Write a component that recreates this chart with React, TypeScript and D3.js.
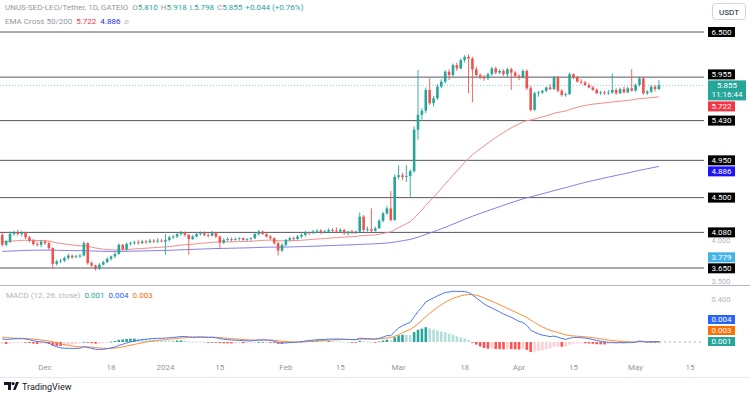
import React from 'react';
import * as d3 from 'd3';

// ---------- DATA ----------
const startDate = new Date(2023, 10, 20); // first daily candle
const opens = [
  4.05,3.93,3.97,4.06,4.08,4.06,4.08,4.02,3.98,3.94,
  3.93,3.97,3.95,3.89,3.70,3.73,3.74,3.77,3.80,3.78,
  3.79,3.80,3.95,3.71,3.68,3.64,3.69,3.72,3.76,3.79,
  3.82,3.93,3.88,3.94,3.95,3.96,3.95,3.97,3.96,3.98,
  3.97,3.98,3.97,3.99,4.02,4.03,4.06,4.08,4.05,4.00,
  4.03,4.06,4.07,4.05,4.04,4.08,4.03,3.96,3.99,4.00,
  3.99,4.00,4.01,3.99,4.00,4.01,4.06,4.09,4.06,4.03,
  4.01,3.95,3.86,3.93,3.99,4.01,4.00,4.03,4.05,4.08,
  4.07,4.09,4.10,4.08,4.09,4.11,4.10,4.09,4.11,4.07,
  4.09,4.08,4.09,4.27,4.11,4.12,4.10,4.13,4.22,4.31,
  4.37,4.23,4.75,4.77,4.75,4.76,4.82,5.32,5.50,5.55,
  5.80,5.64,5.70,5.84,5.90,6.02,5.98,6.10,6.06,6.16,
  6.20,6.18,6.05,5.98,5.96,5.94,5.99,6.06,6.01,6.03,
  5.99,6.05,6.01,5.97,5.95,6.03,5.82,5.56,5.76,5.77,
  5.79,5.83,5.81,5.95,5.79,5.74,5.75,5.99,5.95,5.90,
  5.89,5.86,5.83,5.80,5.76,5.77,5.76,5.77,5.80,5.76,
  5.81,5.77,5.82,5.79,5.86,5.94,5.76,5.78,5.84,5.810,
];
const highs = [
  4.08,3.99,4.09,4.10,4.11,4.10,4.09,4.04,4.00,3.97,
  3.99,3.99,3.97,3.90,3.75,3.76,3.79,3.82,3.81,3.81,
  3.82,3.97,3.96,3.73,3.69,3.71,3.74,3.78,3.80,3.84,
  3.95,3.94,3.96,3.97,3.98,3.99,3.99,3.99,4.00,4.00,
  4.01,4.00,4.06,4.04,4.05,4.07,4.10,4.09,4.06,4.05,
  4.08,4.09,4.09,4.07,4.10,4.09,4.04,4.01,4.02,4.02,
  4.02,4.02,4.02,4.01,4.02,4.08,4.11,4.10,4.07,4.05,
  4.02,3.97,3.95,4.00,4.03,4.03,4.05,4.07,4.10,4.09,
  4.11,4.12,4.12,4.11,4.13,4.13,4.14,4.13,4.12,4.10,
  4.11,4.10,4.32,4.29,4.15,4.37,4.15,4.24,4.33,4.40,
  4.58,4.78,4.89,4.80,4.89,4.84,5.36,6.04,5.58,5.83,
  5.94,5.73,5.87,5.93,6.04,6.05,6.12,6.13,6.18,6.22,
  6.23,6.20,6.08,6.00,5.98,6.01,6.08,6.08,6.05,6.05,
  6.07,6.07,6.03,5.99,6.05,6.05,5.85,5.78,5.79,5.80,
  5.84,5.87,5.97,5.97,5.81,5.77,6.01,6.00,5.97,5.93,
  5.91,5.88,5.85,5.82,5.79,5.79,5.80,6.00,5.82,5.83,
  5.84,5.84,6.05,5.88,5.96,5.96,5.80,5.86,5.86,5.918,
];
const lows = [
  3.91,3.91,3.95,4.04,4.04,4.03,4.00,3.96,3.92,3.91,
  3.90,3.93,3.87,3.64,3.68,3.71,3.72,3.75,3.76,3.77,
  3.77,3.79,3.69,3.66,3.62,3.63,3.68,3.71,3.74,3.77,
  3.81,3.86,3.85,3.92,3.93,3.93,3.94,3.94,3.95,3.95,
  3.95,3.96,3.81,3.97,4.00,4.01,4.04,4.03,3.81,3.99,
  4.02,4.04,4.03,4.02,4.03,4.01,3.88,3.94,3.97,3.97,
  3.98,3.98,3.98,3.97,3.98,4.00,4.04,4.05,4.02,3.99,
  3.93,3.80,3.84,3.91,3.97,3.98,3.99,4.01,4.03,4.05,
  4.06,4.07,4.06,4.07,4.08,4.08,4.07,4.08,4.05,4.04,
  4.06,4.06,4.08,4.09,4.09,4.08,4.09,4.12,4.20,4.29,
  4.21,4.22,4.72,4.71,4.69,4.51,4.80,5.20,5.44,5.52,
  5.62,5.60,5.68,5.82,5.88,5.92,5.96,6.03,6.05,6.13,
  5.76,5.65,5.96,5.93,5.91,5.92,5.97,5.99,5.99,5.97,
  5.95,5.80,5.95,5.92,5.94,5.80,5.54,5.55,5.72,5.75,
  5.77,5.80,5.80,5.77,5.72,5.72,5.74,5.93,5.89,5.87,
  5.85,5.82,5.79,5.75,5.74,5.74,5.74,5.75,5.74,5.75,
  5.76,5.76,5.78,5.78,5.84,5.74,5.74,5.76,5.78,5.798,
];
const closes = [
  3.93,3.97,4.06,4.08,4.06,4.08,4.02,3.98,3.94,3.93,
  3.97,3.95,3.89,3.70,3.73,3.74,3.77,3.80,3.78,3.79,
  3.80,3.95,3.71,3.68,3.64,3.69,3.72,3.76,3.79,3.82,
  3.93,3.88,3.94,3.95,3.96,3.95,3.97,3.96,3.98,3.97,
  3.98,3.97,3.99,4.02,4.03,4.06,4.08,4.05,4.00,4.03,
  4.06,4.07,4.05,4.04,4.08,4.03,3.96,3.99,4.00,3.99,
  4.00,4.01,3.99,4.00,4.01,4.06,4.09,4.06,4.03,4.01,
  3.95,3.86,3.93,3.99,4.01,4.00,4.03,4.05,4.08,4.07,
  4.09,4.10,4.08,4.09,4.11,4.10,4.09,4.11,4.07,4.09,
  4.08,4.09,4.27,4.11,4.12,4.10,4.13,4.22,4.31,4.37,
  4.23,4.75,4.77,4.75,4.76,4.82,5.32,5.50,5.55,5.80,
  5.64,5.70,5.84,5.90,6.02,5.98,6.10,6.06,6.16,6.20,
  6.18,6.05,5.98,5.96,5.94,5.99,6.06,6.01,6.03,5.99,
  6.05,6.01,5.97,5.95,6.03,5.82,5.56,5.76,5.77,5.79,
  5.83,5.81,5.95,5.79,5.74,5.75,5.99,5.95,5.90,5.89,
  5.86,5.83,5.80,5.76,5.77,5.76,5.77,5.80,5.76,5.81,
  5.77,5.82,5.79,5.86,5.94,5.76,5.78,5.84,5.811,5.855,
];

// EMA starting levels read at the left edge of the chart
const emaSeeds = [3.97, 3.85]; // EMA50, EMA200
const macdSeeds = [4.03, 3.99, 0.05]; // EMA12, EMA26, signal

const levelLines = [6.5, 5.955, 5.43, 4.95, 4.5, 4.08, 3.65];
const priceTicks = [3.5, 4.0, 4.5, 5.0, 5.5, 6.0, 6.5];
const timeTickDates = [
  '2023-12-01','2023-12-18','2024-01-01','2024-01-15','2024-02-01','2024-02-15',
  '2024-03-01','2024-03-18','2024-04-01','2024-04-15','2024-05-01','2024-05-15',
];
const timeTickLabels = ['Dec','18','2024','15','Feb','15','Mar','18','Apr','15','May','15'];
const legendOHLC = ['5.810', '5.918', '5.798', '5.855'];
const legendChange = '+0.044 (+0.76%)';
const emaLegend = ['5.722', '4.886'];
const macdLegend = ['0.001', '0.004', '0.003'];
const extraAxisLabels = [{ v: 3.779, label: '3.779' }];
const macdTicks = [0.4];
const countdown = '11:16:44';

// ---------- HELPERS ----------
const UP = '#26a69a';
const DOWN = '#ef5350';
const FONT = 'Roboto, "Liberation Sans", sans-serif';

function ema(values: number[], period: number, seed: number) {
  const k = 2 / (period + 1);
  let prev = seed;
  return values.map((v) => (prev = prev + k * (v - prev)));
}

function parseDay(s: string) {
  const [y, m, d] = s.split('-').map(Number);
  return new Date(y, m - 1, d);
}

function stackBoxes(items: { y: number; h: number; anchor?: boolean }[], gap = 1) {
  const arr = items.map((it) => ({ ...it, top: it.y - (it.anchor ? 5 : it.h / 2) }));
  arr.sort((a, b) => a.y - b.y);
  const ai = Math.max(0, arr.findIndex((a) => a.anchor));
  for (let i = ai + 1; i < arr.length; i++) {
    const prevBottom = arr[i - 1].top + arr[i - 1].h + gap;
    if (arr[i].top < prevBottom) arr[i].top = prevBottom;
  }
  for (let i = ai - 1; i >= 0; i--) {
    const nextTop = arr[i + 1].top - gap;
    if (arr[i].top + arr[i].h > nextTop) arr[i].top = nextTop - arr[i].h;
  }
  return arr;
}

export default function App() {
  const W = 750;
  const H = 394;
  const plotRight = 704;

  const dates = closes.map((_, i) => d3.timeDay.offset(startDate, i));
  const x = d3
    .scaleTime()
    .domain([new Date(2023, 11, 1), new Date(2024, 4, 15)])
    .range([45, 690]);
  const y = d3.scaleLinear().domain([3.65, 6.5]).range([268, 32]);
  const ym = d3.scaleLinear().domain([0, 0.4]).range([342, 299]);

  const ema50 = ema(closes, 50, emaSeeds[0]);
  const ema200 = ema(closes, 200, emaSeeds[1]);
  const ema12 = ema(closes, 12, macdSeeds[0]);
  const ema26 = ema(closes, 26, macdSeeds[1]);
  const macd = ema12.map((v, i) => v - ema26[i]);
  const signal = ema(macd, 9, macdSeeds[2]);
  const hist = macd.map((v, i) => v - signal[i]);

  const line = d3
    .line<number>()
    .x((_, i) => x(dates[i]))
    .y((v) => y(v));
  const mline = d3
    .line<number>()
    .x((_, i) => x(dates[i]))
    .y((v) => ym(v));

  const bw = 2.6;
  const lastX = x(dates[dates.length - 1]);
  const lastClose = closes[closes.length - 1];

  const boxDefs: any[] = levelLines.map((v) => ({ y: y(v), h: 10, label: v.toFixed(3), bg: '#000', fg: '#fff' }));
  boxDefs.push({ y: y(lastClose), h: 20, label: lastClose.toFixed(3), sub: countdown, bg: UP, fg: '#fff', anchor: true, w: 38 });
  boxDefs.push({ y: y(+emaLegend[0]), h: 10, label: emaLegend[0], bg: '#f23645', fg: '#fff' });
  boxDefs.push({ y: y(+emaLegend[1]), h: 10, label: emaLegend[1], bg: '#1e13f5', fg: '#fff' });
  extraAxisLabels.forEach((e) => boxDefs.push({ y: y(e.v), h: 10, label: e.label, bg: '#42b4e6', fg: '#fff' }));
  const placed = stackBoxes(boxDefs as any) as any[];

  // grey scale ticks only where no label box covers them
  const visibleTicks = priceTicks.filter((t) => {
    const ty = y(t);
    return !placed.some((b) => ty >= b.top - 1 && ty <= b.top + b.h + 1);
  });

  const macdBoxDefs: any[] = [
    { y: ym(0), h: 9, label: macdLegend[0], bg: UP, anchor: true },
    { y: ym(0.0001) - 0.1, h: 9, label: macdLegend[2], bg: '#ff6d00' },
    { y: ym(0.0002) - 0.2, h: 9, label: macdLegend[1], bg: '#2962ff' },
  ];
  const macdPlaced = stackBoxes(macdBoxDefs as any, 2) as any[];

  const gray = '#9598a1';
  const axisGray = '#b2b5be';

  return (
    <svg
      width={W}
      height={H}
      style={{ position: 'absolute', left: 0, top: 0, background: '#fff' }}
      fontFamily={FONT}
    >
      <defs>
        <clipPath id="plot">
          <rect x={0} y={0} width={plotRight} height={286} />
        </clipPath>
        <clipPath id="mplot">
          <rect x={0} y={287} width={plotRight} height={68} />
        </clipPath>
      </defs>
      <rect x={0} y={0} width={W} height={H} fill="#fff" />

      {/* Header */}
      <text x={5} y={10} fontSize={8} fill={gray}>
        <tspan>UNUS-SED-LEO/Tether, 1D, GATEIO</tspan>
        <tspan dx={4}>O</tspan><tspan fill={UP}>{legendOHLC[0]}</tspan>
        <tspan dx={3}>H</tspan><tspan fill={UP}>{legendOHLC[1]}</tspan>
        <tspan dx={3}>L</tspan><tspan fill={UP}>{legendOHLC[2]}</tspan>
        <tspan dx={3}>C</tspan><tspan fill={UP}>{legendOHLC[3]}</tspan>
        <tspan dx={3} fill={UP}>{legendChange}</tspan>
      </text>
      <text x={5} y={24} fontSize={8} fill={gray}>
        <tspan>EMA Cross 50/200</tspan>
        <tspan dx={4} fill="#f23645">{emaLegend[0]}</tspan>
        <tspan dx={4} fill="#2a2ae0">{emaLegend[1]}</tspan>
        <tspan dx={4} fill="#c0c3cc">⌀</tspan>
      </text>

      {/* USDT box */}
      <rect x={712.5} y={3.5} width={33} height={16} rx={3} fill="#fff" stroke="#d1d4dc" />
      <text x={729} y={14.5} fontSize={8} fill="#131722" textAnchor="middle">USDT</text>

      {visibleTicks.map((t) => (
        <text key={t} x={721} y={y(t) + 4} fontSize={7.5} fill={axisGray} textAnchor="middle">
          {t.toFixed(3)}
        </text>
      ))}

      <g clipPath="url(#plot)">
        {levelLines.map((v) => (
          <line key={v} x1={0} x2={plotRight} y1={y(v)} y2={y(v)} stroke="#545862" strokeWidth={1} />
        ))}
        <line x1={0} x2={plotRight} y1={y(lastClose)} y2={y(lastClose)} stroke={UP} strokeOpacity={0.55} strokeDasharray="1,2" />

        <path d={line(ema200) || ''} fill="none" stroke="#7f7fe6" strokeWidth={1} />
        <path d={line(ema50) || ''} fill="none" stroke="#f08c8c" strokeWidth={1} />

        {closes.map((c, i) => {
          const o = opens[i];
          const up = c >= o;
          const col = up ? UP : DOWN;
          const cx = x(dates[i]);
          const top = y(Math.max(o, c));
          const bot = y(Math.min(o, c));
          return (
            <g key={i}>
              <line x1={cx} x2={cx} y1={y(highs[i])} y2={y(lows[i])} stroke={col} strokeWidth={0.9} />
              <rect x={cx - bw / 2} y={top} width={bw} height={Math.max(0.8, bot - top)} fill={col} />
            </g>
          );
        })}
      </g>

      {placed.map((b, i) => (
        <g key={i}>
          <rect x={708} y={b.top} width={b.w || 27} height={b.h} fill={b.bg} />
          <text x={708 + (b.w || 27) / 2} y={b.top + 7.8} fontSize={8} fill={b.fg} textAnchor="middle">
            {b.label}
          </text>
          {b.sub && (
            <text x={708 + (b.w || 27) / 2} y={b.top + 17} fontSize={8} fill={b.fg} textAnchor="middle">
              {b.sub}
            </text>
          )}
        </g>
      ))}

      <line x1={0} x2={W} y1={285.5} y2={285.5} stroke="#b2b5be" strokeWidth={1} />

      {/* MACD pane */}
      <text x={6} y={298} fontSize={8} fill={axisGray}>
        <tspan>MACD (12, 26, close)</tspan>
        <tspan dx={4} fill={UP}>{macdLegend[0]}</tspan>
        <tspan dx={4} fill="#2962ff">{macdLegend[1]}</tspan>
        <tspan dx={4} fill="#ff6d00">{macdLegend[2]}</tspan>
      </text>
      {macdTicks.map((t) => (
        <text key={t} x={721} y={ym(t) + 3} fontSize={7.5} fill={axisGray} textAnchor="middle">
          {t.toFixed(3)}
        </text>
      ))}
      <g clipPath="url(#mplot)">
        {hist.map((h, i) => {
          const prev = i > 0 ? hist[i - 1] : h;
          const col = h >= 0 ? (h >= prev ? '#26a69a' : '#b2dfdb') : h < prev ? '#ff5252' : '#ffcdd2';
          const cx = x(dates[i]);
          const y0 = ym(0);
          const y1 = ym(h);
          return (
            <rect key={i} x={cx - bw / 2} y={Math.min(y0, y1)} width={bw} height={Math.max(0.8, Math.abs(y1 - y0))} fill={col} />
          );
        })}
        <line x1={lastX} x2={plotRight} y1={ym(0)} y2={ym(0)} stroke="#9598a1" strokeDasharray="2,3" strokeWidth={0.8} />
        <path d={mline(signal) || ''} fill="none" stroke="#ff8c32" strokeWidth={1} />
        <path d={mline(macd) || ''} fill="none" stroke="#4a78f0" strokeWidth={1} />
      </g>
      {macdPlaced.map((b, i) => (
        <g key={i}>
          <rect x={708} y={b.top} width={27} height={b.h} fill={b.bg} />
          <text x={721.5} y={b.top + 7.2} fontSize={8} fill="#fff" textAnchor="middle">
            {b.label}
          </text>
        </g>
      ))}

      {timeTickDates.map((d, i) => (
        <text key={d} x={x(parseDay(d))} y={370} fontSize={8} fill={gray} textAnchor="middle">
          {timeTickLabels[i]}
        </text>
      ))}
      <line x1={0} x2={W} y1={377.5} y2={377.5} stroke="#e6e8ee" />

      <g transform="translate(4,382)">
        <path d="M0 0 H7 V8 H4 V3 H0 Z" fill="#131722" />
        <circle cx={9} cy={1.6} r={1.6} fill="#131722" />
        <path d="M9 8 L12 0 H15 L11.5 8 Z" fill="#131722" />
      </g>
      <text x={22} y={390} fontSize={9} fill="#131722">TradingView</text>
    </svg>
  );
}
